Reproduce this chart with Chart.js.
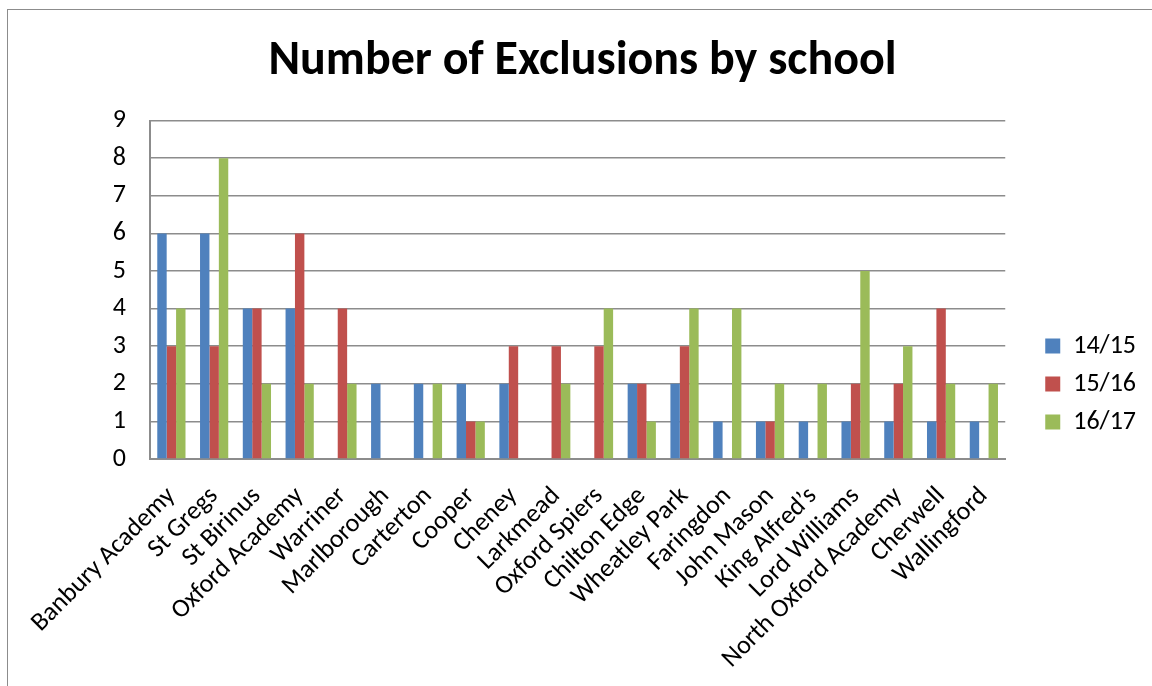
<!DOCTYPE html>
<html>
<head>
<meta charset="utf-8">
<script src="https://cdn.jsdelivr.net/npm/chart.js@4/dist/chart.umd.min.js"></script>
<style>
  html, body { margin: 0; padding: 0; background: #fff; overflow: hidden; }
  #wrap { position: absolute; left: 0; top: 0; width: 1152px; height: 686px; }
  #frame { position: absolute; left: 7px; top: 9px; width: 1200px; height: 700px; border: 1.5px solid #8c8c8c; box-sizing: border-box; }
  canvas { position: absolute; left: 0; top: 0; }
</style>
</head>
<body>
<div id="wrap">
  <div id="frame"></div>
  <canvas id="c" width="1152" height="686"></canvas>
</div>
<script>
const categories = ["Banbury Academy", "St Gregs", "St Birinus", "Oxford Academy", "Warriner", "Marlborough", "Carterton", "Cooper", "Cheney", "Larkmead", "Oxford Spiers", "Chilton Edge", "Wheatley Park", "Faringdon", "John Mason", "King Alfred\u2019s", "Lord Williams", "North Oxford Academy", "Cherwell", "Wallingford"];
const seriesNames = ["14/15", "15/16", "16/17"];
const values1415 = [6, 6, 4, 4, 0, 2, 2, 2, 2, 0, 0, 2, 2, 1, 1, 1, 1, 1, 1, 1];
const values1516 = [3, 3, 4, 6, 4, 0, 0, 1, 3, 3, 3, 2, 3, 0, 1, 0, 2, 2, 4, 0];
const values1617 = [4, 8, 2, 2, 2, 0, 2, 1, 0, 2, 4, 1, 4, 4, 2, 2, 5, 3, 2, 2];
const yTicks = [0, 1, 2, 3, 4, 5, 6, 7, 8, 9];
const colors = ["#4F81BD", "#C0504D", "#9BBB59"];

const FONT = "Carlito, Lato, 'Liberation Sans', sans-serif";

const legendShift = {
  id: "legendShift",
  afterLayout(chart) {
    const lg = chart.legend;
    if (!lg) return;
    lg.left += 28; lg.right += 28;
    lg.top += 41; lg.bottom += 41;
  }
};

new Chart(document.getElementById("c"), {
  type: "bar",
  data: {
    labels: categories,
    datasets: [
      { label: seriesNames[0], data: values1415, backgroundColor: colors[0] },
      { label: seriesNames[1], data: values1516, backgroundColor: colors[1] },
      { label: seriesNames[2], data: values1617, backgroundColor: colors[2] }
    ]
  },
  plugins: [legendShift],
  options: {
    responsive: false,
    animation: false,
    events: [],
    categoryPercentage: 0.66,
    barPercentage: 1.0,
    layout: { padding: { left: 47, right: 34, top: 0, bottom: 0 } },
    plugins: {
      title: {
        display: true,
        text: "Number of Exclusions by school",
        color: "#000",
        font: { family: FONT, size: 48, weight: "bold" },
        padding: { top: 33, bottom: 30 }
      },
      legend: {
        position: "right",
        align: "center",
        labels: {
          color: "#000",
          font: { family: FONT, size: 26 },
          boxWidth: 15,
          boxHeight: 15,
          padding: 12
        }
      },
      tooltip: { enabled: false }
    },
    scales: {
      x: {
        afterFit: (axis) => { axis.height = 227; },
        grid: { display: false, drawTicks: false },
        border: { display: true, color: "#8c8c8c", width: 2 },
        ticks: {
          color: "#000",
          font: { family: FONT, size: 26 },
          maxRotation: 45,
          minRotation: 45,
          autoSkip: false,
          padding: 22
        }
      },
      y: {
        min: 0,
        max: 9,
        afterFit: (axis) => { axis.width = 103; },
        afterBuildTicks: (axis) => { axis.ticks = yTicks.map(v => ({ value: v })); },
        grid: { color: "#8c8c8c", lineWidth: 1.5, drawTicks: false },
        border: { display: true, color: "#8c8c8c", width: 2 },
        ticks: {
          color: "#000",
          font: { family: FONT, size: 26 },
          padding: 24
        }
      }
    }
  }
});
</script>
</body>
</html>
